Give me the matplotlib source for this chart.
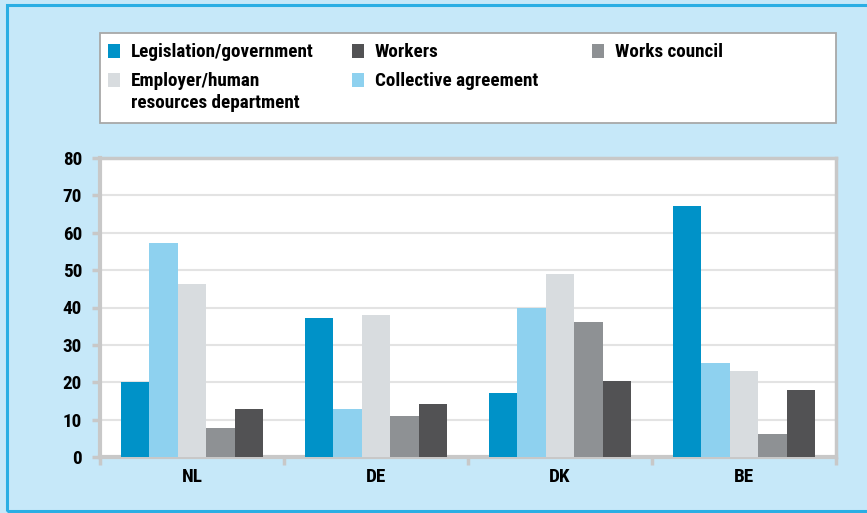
"""
Grouped bar chart: who sets the rules, by country (NL, DE, DK, BE).
Output: out.png
"""

import matplotlib.pyplot as plt
import numpy as np
from matplotlib import font_manager
from matplotlib.patches import Rectangle

countries = ["NL", "DE", "DK", "BE"]
series_names = [
    "Legislation/government",
    "Collective agreement",
    "Employer/human\nresources department",
    "Works council",
    "Workers",
]
legislation = [20.2, 37.2, 17.1, 67.2]
collective = [57.3, 12.8, 39.9, 25.1]
employer = [46.4, 38.0, 49.0, 23.0]
works_council = [7.7, 11.0, 36.1, 6.1]
workers = [12.8, 14.2, 20.3, 17.9]
y_ticks = [0, 10, 20, 30, 40, 50, 60, 70, 80]

colors = ["#0092c8", "#8ed1ef", "#d8dcdf", "#8e9194", "#525254"]
BG = "#c6e8f9"
BORDER = "#2aaee4"
AXIS_GREY = "#c8c8c8"
GRID_GREY = "#e3e3e3"

installed = {f.name for f in font_manager.fontManager.ttflist}
FONT = "DejaVu Sans"
for cand in ["Roboto Condensed", "Liberation Sans Narrow", "Open Sans Condensed", "Roboto"]:
    if cand in installed:
        FONT = cand
        break
plt.rcParams["font.family"] = [FONT, "DejaVu Sans"]
plt.rcParams["font.weight"] = "bold"

TEXT_SIZE = 13.8


def main():
    values = [legislation, collective, employer, works_council, workers]

    fig = plt.figure(figsize=(8.67, 5.13), dpi=100)
    fig.patch.set_facecolor(BG)

    # outer blue frame (right side runs off the picture)
    fig.patches.append(Rectangle((7 / 867, 2 / 513), 1.2, 1 - 7 / 513,
                                 transform=fig.transFigure, fill=False,
                                 edgecolor=BORDER, linewidth=2.2))

    ax = fig.add_axes([100 / 867, 1 - 457 / 513, 736 / 867, 299 / 513])
    ax.set_facecolor("white")

    x = np.arange(len(countries))
    n = len(values)
    width = 0.775 / n
    for i, (vals, col) in enumerate(zip(values, colors)):
        offset = (i - (n - 1) / 2) * width
        ax.bar(x + offset, vals, width=width, color=col, linewidth=0, zorder=3)

    ax.set_xlim(-0.5, len(countries) - 0.5)
    ax.set_ylim(0, 80)
    ax.set_yticks(y_ticks)
    ax.set_yticklabels([str(t) for t in y_ticks], fontsize=TEXT_SIZE, fontweight="bold")
    ax.yaxis.grid(True, color=GRID_GREY, linewidth=1.5, zorder=0)
    ax.set_axisbelow(True)

    # country labels centred, tick marks at group boundaries
    ax.set_xticks(np.arange(len(countries) + 1) - 0.5)
    ax.set_xticklabels([])
    ax.set_xticks(x, minor=True)
    ax.set_xticklabels(countries, minor=True, fontsize=TEXT_SIZE, fontweight="bold")
    ax.tick_params(axis="x", which="minor", length=0, pad=8)
    ax.tick_params(axis="x", which="major", length=6, width=2.5, color=AXIS_GREY)
    ax.tick_params(axis="y", length=6, width=2.5, color=AXIS_GREY, pad=7)

    for side in ["left", "bottom"]:
        ax.spines[side].set_color(AXIS_GREY)
        ax.spines[side].set_linewidth(3)
    for side in ["top", "right"]:
        ax.spines[side].set_color(AXIS_GREY)
        ax.spines[side].set_linewidth(2.5)

    # legend box drawn by hand to match the row layout
    fig.patches.append(Rectangle((100 / 867, 1 - 123 / 513), 736 / 867, 90 / 513,
                                 transform=fig.transFigure, facecolor="white",
                                 edgecolor="#a8a8a8", linewidth=1.3))
    legend_pos = [(108, 51), (352, 80), (108, 80), (592, 51), (352, 51)]
    for (px, py), name, col in zip(legend_pos, series_names, colors):
        fig.patches.append(Rectangle((px / 867, 1 - (py + 7) / 513), 12 / 867, 14 / 513,
                                     transform=fig.transFigure, facecolor=col,
                                     edgecolor="none"))
        fig.text((px + 23) / 867, 1 - (py - 8) / 513, name, fontsize=TEXT_SIZE,
                 fontweight="bold", va="top", ha="left", linespacing=1.3)

    fig.savefig("out.png", dpi=100, facecolor=fig.get_facecolor())
    plt.close(fig)


if __name__ == "__main__":
    main()
